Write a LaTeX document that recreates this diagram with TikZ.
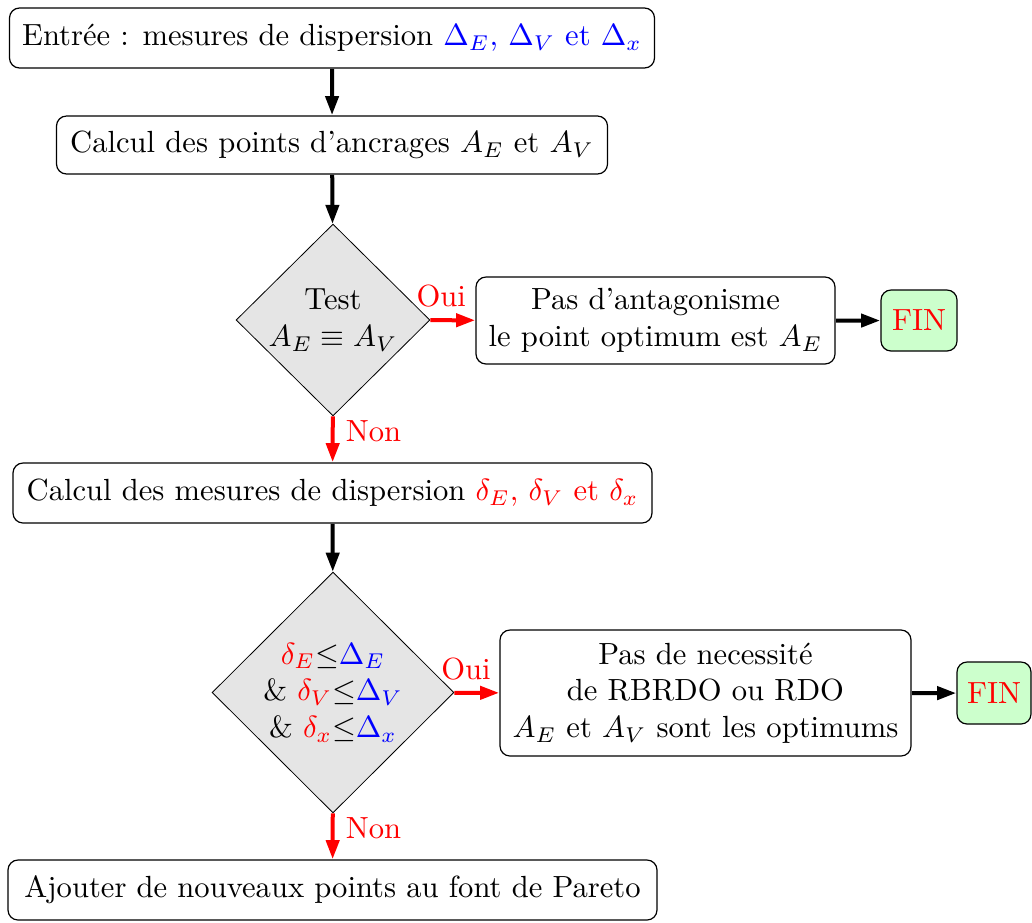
\documentclass[tikz,border=0pt]{standalone}
\usetikzlibrary{shapes.geometric,arrows.meta}
\begin{document}
\begin{tikzpicture}[scale=1.53,x=0.326797pt,y=-0.326797pt,
  every node/.append style={transform shape},
  box/.style={draw,rounded corners=5pt,line width=0.6pt,align=center,inner xsep=2.6pt,inner ysep=0pt},
  dec/.style={draw,diamond,fill=black!10,line width=0.4pt,align=center,inner sep=0pt},
  fin/.style={draw,rounded corners=5pt,fill=green!20,text=red,line width=0.6pt,inner sep=0pt},
  blk/.style={-{Triangle[length=9.5pt,width=6.5pt]},line width=2pt},
  rd/.style={blk,red},
  labo/.style={text=red,inner sep=3.2pt,above},
  labn/.style={text=red,inner sep=3.3pt,right}
]
\useasboundingbox (0,0) rectangle (1032,922);
\node[box,minimum width=210.78pt,minimum height=19.61pt] (b1) at (332,38)
  {Entrée : mesures de dispersion \textcolor{blue}{$\Delta_E$, $\Delta_V$ et $\Delta_x$}};
\node[box,minimum width=180.07pt,minimum height=18.95pt] (b2) at (332,145)
  {Calcul des points d'ancrages $A_E$ et $A_V$};
\node[dec,minimum width=63.4pt,minimum height=62.75pt] (d1) at (333,320)
  {Test\\$A_E\equiv A_V$};
\node[box,minimum width=117.32pt,minimum height=28.43pt] (b4) at (655.5,320.5)
  {Pas d'antagonisme\\le point optimum est $A_E$};
\node[fin,minimum width=24.84pt,minimum height=19.93pt] (f1) at (919,320.5) {FIN};
\node[box,minimum width=208.82pt,minimum height=19.61pt] (b6) at (332.5,493)
  {Calcul des mesures de dispersion \textcolor{red}{$\delta_E$, $\delta_V$ et $\delta_x$}};
\node[dec,minimum width=79.08pt,minimum height=78.76pt] (d2) at (333,692.5)
  {$\textcolor{red}{\delta_E}{\leq}\textcolor{blue}{\Delta_E}$\\
   \& $\textcolor{red}{\delta_V}{\leq}\textcolor{blue}{\Delta_V}$\\
   \& $\textcolor{red}{\delta_x}{\leq}\textcolor{blue}{\Delta_x}$};
\node[box,minimum width=134.31pt,minimum height=41.18pt] (b8) at (705.5,693)
  {Pas de necessité\\de RBRDO ou RDO\\$A_E$ et $A_V$ sont les optimums};
\node[fin,minimum width=24.18pt,minimum height=20.26pt] (f2) at (994,693) {FIN};
\node[box,minimum width=212.09pt,minimum height=19.61pt] (b10) at (332.5,890)
  {Ajouter de nouveaux points au font de Pareto};
\draw[blk] (b1) -- (b2);
\draw[blk] (b2) -- (d1);
\draw[rd] (d1) -- node[labo,pos=0.24]{Oui} (b4);
\draw[blk] (b4) -- (f1);
\draw[rd] (d1) -- node[labn,pos=0.32]{Non} (b6);
\draw[blk] (b6) -- (d2);
\draw[rd] (d2) -- node[labo,pos=0.26]{Oui} (b8);
\draw[blk] (b8) -- (f2);
\draw[rd] (d2) -- node[labn,pos=0.32]{Non} (b10);
\end{tikzpicture}
\end{document}
